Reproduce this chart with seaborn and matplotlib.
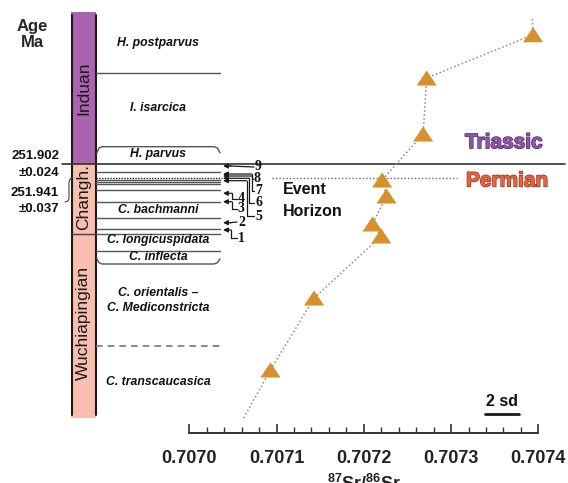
import numpy as np
import pandas as pd
import seaborn as sns
import matplotlib.pyplot as plt
import matplotlib.patheffects as pe
from matplotlib.patches import Rectangle
from matplotlib.ticker import FixedLocator

# 87Sr/86Sr samples, level = stratigraphic height (arbitrary units above column base)
sr_ratio = [0.707394, 0.707272, 0.707268, 0.707221, 0.707226, 0.707210, 0.707220, 0.707143, 0.707093]
sr_level = [398.3, 355.0, 299.0, 253.0, 237.0, 209.0, 197.0, 135.0, 63.0]
# dotted trend incl. its open ends
trend_ratio = [0.707393] + sr_ratio + [0.707062]
trend_level = [414.0] + sr_level + [14.7]

x_ticks = [0.7070, 0.7071, 0.7072, 0.7073, 0.7074]
x_minor = [0.70702, 0.70704, 0.70706, 0.70708, 0.70712, 0.70714, 0.70716, 0.70718,
           0.70722, 0.70724, 0.70726, 0.70728, 0.70732, 0.70734, 0.70736, 0.70738]
two_sd = 0.000039

stage_names = ["Induan", "Changh.", "Wuchiapingian"]
stage_top = [421.0, 269.5, 198.7]
stage_base = [269.5, 198.7, 15.0]
stage_label_level = [345.0, 235.5, 110.5]
stage_colors = ["#AA64AF", "#F9BFAE", "#F9BFAE"]

zone_names = ["H. postparvus", "I. isarcica", "H. parvus", "C. bachmanni",
              "C. longicuspidata", "C. inflecta", "C. orientalis \u2013",
              "C. Mediconstricta", "C. transcaucasica"]
zone_label_level = [389.7, 325.0, 279.0, 223.0, 192.5, 175.7, 139.7, 124.7, 51.3]
zone_lines = [360.3, 261.3, 253.0, 251.0, 249.0, 243.3, 231.3, 214.7, 204.2, 198.7, 182.0]
boundary_level = 269.5
event_level = 255.0
dashed_level = 87.0

bed_no = [1, 2, 3, 4, 5, 6, 7, 8, 9]
bed_level = [203.0, 210.3, 231.3, 239.7, 252.3, 254.7, 257.0, 259.0, 267.0]
bed_label_level = [195.0, 211.0, 224.0, 234.0, 217.0, 230.0, 242.0, 254.5, 266.0]

age_text = ["251.902", "\u00b10.024", "251.941", "\u00b10.037"]
age_level = [277.0, 260.3, 240.3, 224.0]

sns.set_theme(style="white")
plt.rcParams['font.family'] = ['Liberation Sans', 'DejaVu Sans']
plt.rcParams['mathtext.fontset'] = 'custom'
plt.rcParams['mathtext.rm'] = 'Liberation Sans'
plt.rcParams['mathtext.bf'] = 'Liberation Sans:bold'

fig = plt.figure(figsize=(5.68, 4.83), dpi=100)
rect = [0, 50 / 483, 1, 433 / 483]
col = fig.add_axes(rect)
ax = fig.add_axes(rect)
for a in (col, ax):
    a.set_facecolor('none')
    a.set_ylim(0, 433)
col.set_xlim(0, 568)
col.axis('off')
ax.set_xlim(0.706783, 0.707434)

# --- Sr data
df = pd.DataFrame({"ratio": sr_ratio, "level": sr_level})
trend = pd.DataFrame({"ratio": trend_ratio, "level": trend_level})
sns.lineplot(data=trend, x="ratio", y="level", sort=False, estimator=None,
             color="#8a8a8a", lw=1.1, ls=(0, (1, 1.6)), ax=ax)
sns.scatterplot(data=df, x="ratio", y="level", marker=[(-1, -0.75), (1, -0.75), (0, 0.75)],
                s=210, color="#D6912C", edgecolor="none", zorder=3, ax=ax)

ax.set_xlabel("")
ax.set_ylabel("")
ax.set_yticks([])
for s in ["left", "right", "top"]:
    ax.spines[s].set_visible(False)
ax.spines["bottom"].set_bounds(x_ticks[0], x_ticks[-1])
ax.spines["bottom"].set_color("#333333")
ax.spines["bottom"].set_linewidth(1.4)
ax.set_xticks(x_ticks)
ax.set_xticklabels([f"{t:.4f}" for t in x_ticks], fontweight="bold")
ax.xaxis.set_minor_locator(FixedLocator(x_minor))
ax.tick_params(axis="x", which="major", direction="in", length=6.5, width=1.2,
               color="#333333", labelsize=13, labelcolor="#222222", pad=12, bottom=True)
ax.tick_params(axis="x", which="minor", direction="in", length=4.5, width=1.0,
               color="#333333", bottom=True)
ax.text(0.7072, -51 / 433, r"$\mathbf{{}^{87}Sr/{}^{86}Sr}$", transform=ax.get_xaxis_transform(),
        ha="center", va="center", fontsize=13, color="#222222")

# 2 sd scale bar
ax.plot([0.707339, 0.707339 + two_sd], [19, 19], color="k", lw=2)
ax.text(0.707339 + two_sd / 2, 31.3, "2 sd", ha="center", va="center",
        fontsize=11.5, fontweight="bold", color="#111111")

# --- stratigraphic column
for name, top, base, c, lv in zip(stage_names, stage_top, stage_base, stage_colors, stage_label_level):
    col.add_patch(Rectangle((71, base), 25, top - base, fc=c, ec="none"))
    col.text(83.5, lv, name, rotation=90, ha="center", va="center", fontsize=12.5, color="#1a1a1a")
for xe in (71.5, 95.5):
    col.plot([xe, xe], [18, 418], color="k", lw=1.5)
col.plot([71, 96], [198.7, 198.7], color="#444444", lw=1)

col.plot([62, 565], [boundary_level, boundary_level], color="#333333", lw=1.2)
for lv in zone_lines:
    col.plot([96, 220], [lv, lv], color="#555555", lw=1)
col.plot([96, 222], [event_level, event_level], color="#222222", lw=1, ls=(0, (1, 1)))
col.plot([272, 457], [event_level, event_level], color="#666666", lw=1, ls=(0, (1, 1.5)))
col.plot([96, 220], [dashed_level, dashed_level], color="#777777", lw=1.2, ls=(0, (4, 3)))

# bracket shapes around H. parvus and C. inflecta
col.plot([96.7, 99, 102, 214, 217.5, 220], [279.7, 285, 286.3, 286.3, 285, 280], color="#555555", lw=1)
col.plot([96.7, 99, 102, 214, 217.5, 220], [174.7, 170.3, 169, 169, 170.3, 174.2], color="#555555", lw=1)

for name, lv in zip(zone_names, zone_label_level):
    col.text(158, lv, name, ha="center", va="center", fontsize=8.8, fontweight="bold",
             style="italic", color="#111111")

# numbered beds with arrows
label_x = [238, 238, 238, 238, 255, 255, 255, 254, 255]
elbow_x = [231, None, 232, 232, 246.7, 249.3, 251.7, 251.7, None]
for n, tip, lab, lx, ex in zip(bed_no, bed_level, bed_label_level, label_x, elbow_x):
    if ex is None:
        col.plot([230, lx - 1], [tip, lab], color="k", lw=0.9)
        start = 231
    else:
        col.plot([ex, ex, lx - 1], [tip, lab, lab], color="k", lw=0.9)
        start = ex
    col.annotate("", xy=(223, tip), xytext=(start, tip),
                 arrowprops=dict(arrowstyle="-|>", lw=0.9, color="k", mutation_scale=7,
                                 shrinkA=0, shrinkB=0))
    col.text(lx, lab, str(n), ha="left", va="center", fontsize=10, fontweight="bold",
             family=["Liberation Serif"], color="#111111")

# ages
for t, lv in zip(age_text, age_level):
    col.text(59, lv, t, ha="right", va="center", fontsize=9.5, fontweight="bold", color="#111111")
col.plot([73, 70, 69, 69, 68, 65], [255.5, 254, 251, 235, 232, 231], color="#444444", lw=0.8)

col.text(32, 401.8, "Age", ha="center", va="baseline", fontsize=12, fontweight="bold")
col.text(32, 386.3, "Ma", ha="center", va="baseline", fontsize=12, fontweight="bold")

col.text(283, 243, "Event", ha="left", va="center", fontsize=11.5, fontweight="bold", color="#111111")
col.text(283, 221.3, "Horizon", ha="left", va="center", fontsize=11.5, fontweight="bold", color="#111111")

col.text(465, 290.3, "Triassic", ha="left", va="center", fontsize=15, fontweight="bold",
         color="#8E55A8", path_effects=[pe.withStroke(linewidth=1, foreground="#4d2a66")])
col.text(466, 252, "Permian", ha="left", va="center", fontsize=15, fontweight="bold",
         color="#E8643F", path_effects=[pe.withStroke(linewidth=1, foreground="#8a3520")])

fig.savefig("out.png", dpi=100)
